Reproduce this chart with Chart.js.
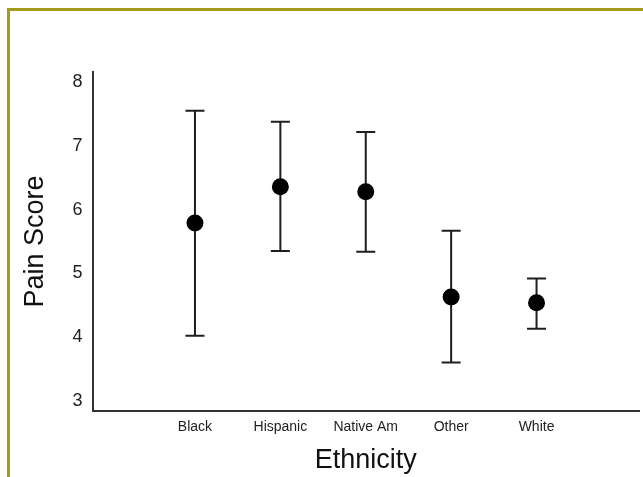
<!DOCTYPE html>
<html>
<head>
<meta charset="utf-8">
<script src="https://cdn.jsdelivr.net/npm/chart.js@4.4.1/dist/chart.umd.min.js"></script>
<style>
  html, body { margin: 0; padding: 0; background: #fff; overflow: hidden; }
  #wrap { position: relative; width: 643px; height: 477px; }
  #frame {
    position: absolute; left: 7px; top: 8px; right: -10px; bottom: -10px;
    border: 3px solid #a69a1b; pointer-events: none;
  }
</style>
</head>
<body>
<div id="wrap">
  <canvas id="painChart" width="643" height="477"></canvas>
  <div id="frame"></div>
</div>
<script>
// values
const categories = ['Black', 'Hispanic', 'Native Am', 'Other', 'White'];
const means = [5.79, 6.36, 6.28, 4.63, 4.54];
const upper = [7.55, 7.38, 7.22, 5.67, 4.92];
const lower = [4.02, 5.35, 5.34, 3.60, 4.13];
const yTicks = [3, 4, 5, 6, 7, 8];

const ink = '#1e1e1e';
const axisColor = '#333';

// one little line per category: lower cap -> upper cap
const errorBars = categories.map((name, i) => ({
    label: name + ' CI',
    data: [{x: i, y: lower[i]}, {x: i, y: upper[i]}],
    showLine: true,
    borderColor: ink,
    borderWidth: 2,
    pointStyle: 'line',
    pointRadius: 9.5,
    pointBorderWidth: 2,
    pointBorderColor: ink
}));

const meanPoints = {
    label: 'Mean',
    data: means.map((m, i) => ({x: i, y: m})),
    pointStyle: 'circle',
    pointRadius: 8.5,
    pointBackgroundColor: '#000',
    pointBorderWidth: 0
};

new Chart('painChart', {
    type: 'scatter',
    data: {
        datasets: [meanPoints, ...errorBars]
    },
    options: {
        responsive: false,
        animation: false,
        layout: {
            autoPadding: false,
            padding: {left: 12, top: 72, right: 4, bottom: 0}
        },
        plugins: {
            legend: {display: false},
            tooltip: {enabled: false}
        },
        scales: {
            x: {
                type: 'linear',
                min: -1.2,
                max: 5.2,
                afterBuildTicks: scale => {
                    scale.ticks = categories.map((c, i) => ({value: i}));
                },
                afterFit: scale => {
                    scale.height = 66;
                    scale.paddingLeft = 0;
                    scale.paddingRight = 0;
                },
                grid: {display: false, drawTicks: false},
                border: {display: true, color: axisColor, width: 2},
                ticks: {
                    padding: 8,
                    color: '#222',
                    font: {family: 'Liberation Sans', size: 14},
                    callback: v => categories[v]
                },
                title: {
                    display: true,
                    text: 'Ethnicity',
                    color: '#111',
                    font: {family: 'Liberation Sans', size: 27},
                    padding: {top: 0, bottom: 0}
                }
            },
            y: {
                min: 2.84,
                max: 8.16,
                afterBuildTicks: scale => {
                    scale.ticks = yTicks.map(v => ({value: v}));
                },
                afterFit: scale => { scale.width = 80.5; },
                grid: {display: false, drawTicks: false},
                border: {display: true, color: axisColor, width: 2},
                ticks: {
                    padding: 10,
                    color: '#222',
                    font: {family: 'Liberation Sans', size: 18}
                },
                title: {
                    display: true,
                    text: 'Pain Score',
                    color: '#111',
                    font: {family: 'Liberation Sans', size: 27},
                    padding: {top: 7, bottom: 0}
                }
            }
        }
    }
});
</script>
</body>
</html>
